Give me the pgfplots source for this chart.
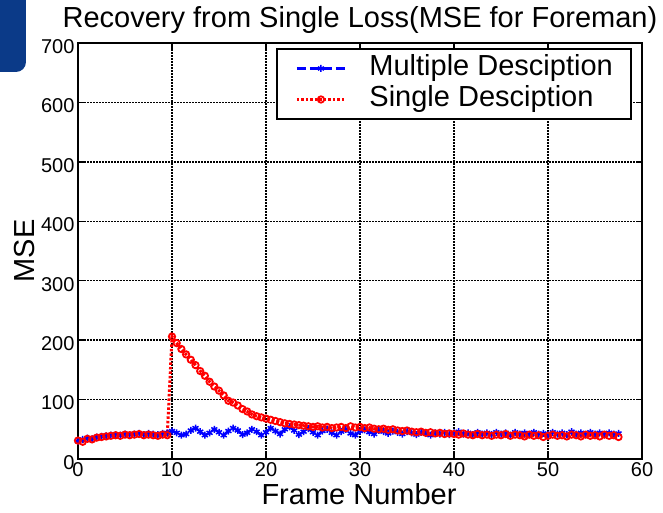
\documentclass[border=0pt]{standalone}
\usepackage{fontspec}
\setmainfont{Liberation Sans}
\usepackage{pgfplots}
\usepackage{pgfplotstable}
\pgfplotsset{compat=1.18}
\definecolor{mdblue}{RGB}{0,0,255}
\definecolor{sdred}{RGB}{255,0,0}
\definecolor{cornerblue}{HTML}{0B3A88}

% Multiple description
\pgfplotstableread{
x y
0 30
0.5 33
1 35
1.5 34
2 37
2.5 38
3 39
3.5 40
4 41
4.5 40
5 42
5.5 41
6 42
6.5 43
7 41
7.5 43
8 42
8.5 41
9 43
9.5 44
10 47
10.5 44
11 40
11.5 42
12 48
12.5 52
13 46
13.5 40
14 44
14.5 50
15 45
15.5 40
16 47
16.5 52
17 48
17.5 41
18 44
18.5 50
19 46
19.5 40
20 45
20.5 52
21 47
21.5 42
22 50
22.5 54
23 48
23.5 41
24 46
24.5 51
25 45
25.5 40
26 47
26.5 50
27 44
27.5 40
28 46
28.5 50
29 43
29.5 40
30 47
30.5 49
31 45
31.5 42
32 48
32.5 46
33 43
33.5 47
34 45
34.5 42
35 46
35.5 44
36 41
36.5 45
37 43
37.5 40
38 44
38.5 42
39 45
39.5 41
40 44
40.5 46
41 42
41.5 44
42 41
42.5 45
43 42
43.5 44
44 41
44.5 45
45 42
45.5 44
46 40
46.5 45
47 42
47.5 44
48 41
48.5 45
49 42
49.5 43
50 41
50.5 45
51 42
51.5 44
52 41
52.5 46
53 42
53.5 44
54 41
54.5 45
55 42
55.5 44
56 41
56.5 44
57 42
57.5 43
}\mdtable

% Single description
\pgfplotstableread{
x y
0 31
0.5 29
1 34
1.5 33
2 36
2.5 37
3 38
3.5 39
4 40
4.5 39
5 41
5.5 40
6 41
6.5 42
7 40
7.5 41
8 40
8.5 39
9 41
9.5 40
10 206
10.5 195
11 185
11.5 176
12 167
12.5 158
13 148
13.5 140
14 130
14.5 122
15 115
15.5 107
16 98
16.5 95
17 90
17.5 84
18 80
18.5 75
19 72
19.5 70
20 68
20.5 66
21 64
21.5 62
22 60
22.5 59
23 58
23.5 57
24 56
24.5 55
25 54
25.5 55
26 53
26.5 54
27 52
27.5 53
28 54
28.5 52
29 55
29.5 53
30 54
30.5 52
31 53
31.5 51
32 50
32.5 51
33 49
33.5 50
34 48
34.5 47
35 48
35.5 46
36 45
36.5 46
37 44
37.5 45
38 43
38.5 44
39 42
39.5 43
40 42
40.5 41
41 43
41.5 41
42 40
42.5 42
43 40
43.5 41
44 39
44.5 41
45 40
45.5 42
46 39
46.5 41
47 40
47.5 38
48 41
48.5 39
49 40
49.5 37
50 39
50.5 41
51 39
51.5 40
52 38
52.5 41
53 40
53.5 38
54 41
54.5 39
55 40
55.5 38
56 41
56.5 39
57 40
57.5 37
}\sdtable

\begin{document}
\begin{tikzpicture}[x=1bp,y=1bp]
\path[use as bounding box] (-78,-54) rectangle (585,459);
\fill[cornerblue, rounded corners=10bp] (-110,500) rectangle (-52,387);
\begin{axis}[
  at={(0,0)}, anchor=south west,
  scale only axis,
  width=564bp, height=416bp,
  xmin=0, xmax=60, ymin=0, ymax=700,
  xtick={0,10,...,60},
  ytick={0,100,...,700},
  grid=major,
  major grid style={black, line width=1.5bp, dash pattern=on 1.5bp off 1.5bp},
  axis line style={black, line width=2.8bp},
  axis background/.style={draw=black, line width=2.8bp},
  tick style={black, line width=1.5bp},
  tick align=inside,
  major tick length=6bp,
  /pgf/number format/assume math mode=true,
  ticklabel style={font=\fontsize{20bp}{22bp}\selectfont},
  yticklabel style={yshift=-3.5bp},
  legend style={
    at={(rel axis cs:0.982,0.988)}, anchor=north east,
    draw=black, line width=2bp,
    font=\fontsize{29bp}{31bp}\selectfont,
    inner xsep=18bp, inner ysep=6bp,
    row sep=4bp,
    nodes={inner sep=0bp, text height=21bp, text depth=6bp},
    /tikz/every odd column/.append style={column sep=23bp},
  },
  legend cell align=left,
  legend image code/.code={\draw[mark repeat=2,mark phase=2,#1] plot coordinates {(0bp,0bp) (24bp,0bp) (48bp,0bp)};},
]
\addplot[mdblue, line width=2.5bp, dash pattern=on 9bp off 4bp, mark=asterisk, mark size=3.5bp, mark options={solid, line width=1.5bp}] table {\mdtable};
\addlegendentry{Multiple Desciption}
\addplot[sdred, line width=3bp, dash pattern=on 2.5bp off 2bp, mark=o, mark size=3.2bp, mark options={solid, line width=1.8bp}] table {\sdtable};
\addlegendentry{Single Desciption}
\end{axis}
\node[anchor=base, font=\fontsize{29bp}{31bp}\selectfont] at (282,431) {Recovery from Single Loss(MSE for Foreman)};
\node[anchor=base, font=\fontsize{29bp}{31bp}\selectfont] at (281,-46) {Frame Number};
\node[anchor=base, rotate=90, font=\fontsize{29bp}{31bp}\selectfont] at (-43,208) {MSE};
\end{tikzpicture}
\end{document}
